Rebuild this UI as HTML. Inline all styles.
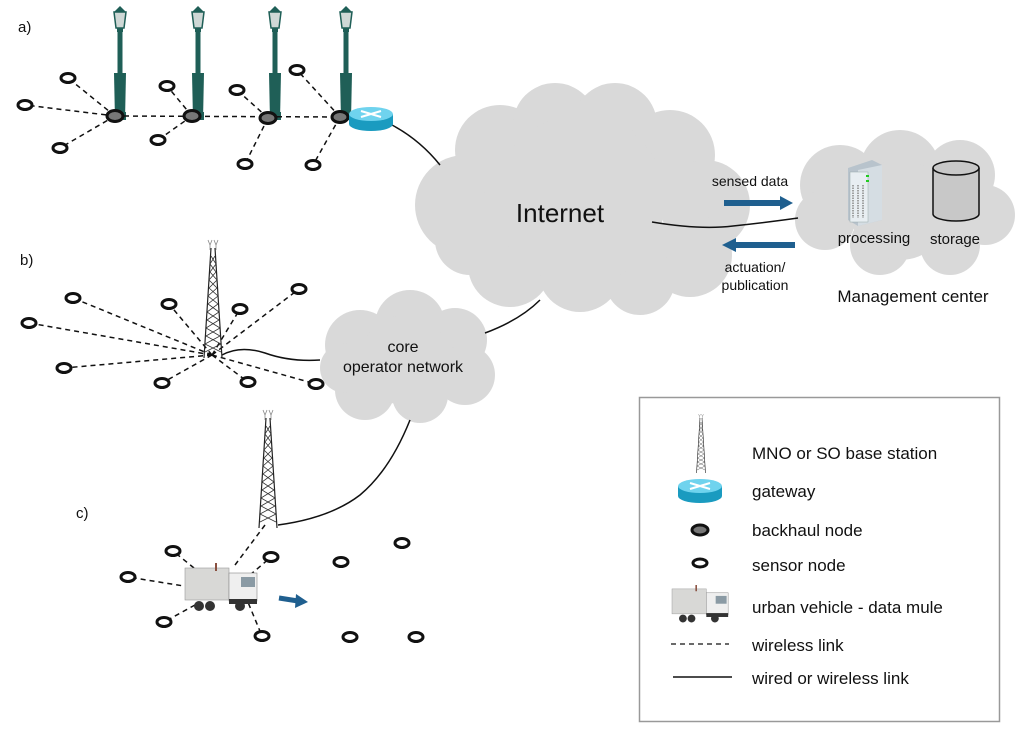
<!DOCTYPE html>
<html><head><meta charset="utf-8"><style>
html,body{margin:0;padding:0;background:#fff}
svg{display:block}
text{font-family:"Liberation Sans","DejaVu Sans",sans-serif;fill:#111}
</style></head><body>
<svg width="1024" height="736" viewBox="0 0 1024 736" xmlns="http://www.w3.org/2000/svg">
<defs>
  <g id="lamp">
    <rect x="-2.5" y="18" width="5" height="92" fill="#1f5f57"/>
    <path d="M-5 112 L-6 65 L6 65 L5 112Z" fill="#1f5f57"/>
    <path d="M-6 4 L6 4 L4 20 L-4 20Z" fill="#cfd8d6" stroke="#1f5f57" stroke-width="1.5"/>
    <path d="M-6 4 L0 -2 L6 4Z" fill="#1f5f57"/>
    <rect x="-3" y="20" width="6" height="4" fill="#1f5f57"/>
    <rect x="-6" y="104" width="12" height="8" fill="#1f5f57"/>
  </g>
  <g id="tower">
    <path d="M-2 0 L-9 110 M2 0 L9 110" stroke="#222" stroke-width="1.2" fill="none"/>
    <path d="M-2 8 L3 16 L-3 24 L4 32 L-4 40 L5 48 L-5 56 L6 64 L-6 72 L7 80 L-7 88 L8 96 L-8 104 M2 8 L-3 16 L3 24 L-4 32 L4 40 L-5 48 L5 56 L-6 64 L6 72 L-7 80 L7 88 L-8 96 L8 104" stroke="#333" stroke-width="0.8" fill="none"/>
    <path d="M-5 -8 L-3 -3 L-1 -8 M1 -8 L3 -3 L5 -8 M-3 -3 L-3 2 M3 -3 L3 2" stroke="#888" stroke-width="0.8" fill="none"/>
  </g>
  <g id="gw">
    <path d="M0 8 L0 18 A22 7 0 0 0 44 18 L44 8Z" fill="#1a9bc0"/>
    <ellipse cx="22" cy="8" rx="22" ry="7" fill="#6fd3ee"/>
    <path d="M12 5 L32 11 M12 11 L32 5" stroke="#fff" stroke-width="2"/>
  </g>
  <g id="truck">
    <rect x="0" y="5" width="44" height="32" fill="#d8d8d6" stroke="#999" stroke-width="0.6"/>
    <rect x="44" y="10" width="28" height="28" fill="#efefef" stroke="#888" stroke-width="0.6"/>
    <rect x="56" y="14" width="14" height="10" fill="#8a9aa4"/>
    <rect x="44" y="36" width="28" height="5" fill="#333"/>
    <circle cx="14" cy="43" r="5" fill="#333"/><circle cx="25" cy="43" r="5" fill="#333"/><circle cx="55" cy="43" r="5" fill="#333"/>
    <rect x="30" y="0" width="2" height="8" fill="#8a5040"/>
  </g>
</defs>

<!-- clouds -->
<g fill="#d9d9d9">
  <circle cx="465" cy="205" r="50"/><circle cx="500" cy="150" r="45"/><circle cx="555" cy="125" r="42"/>
  <circle cx="615" cy="125" r="42"/><circle cx="670" cy="155" r="45"/><circle cx="705" cy="205" r="45"/>
  <circle cx="690" cy="255" r="42"/><circle cx="640" cy="280" r="35"/><circle cx="580" cy="270" r="42"/>
  <circle cx="510" cy="265" r="42"/><circle cx="470" cy="240" r="35"/><circle cx="580" cy="200" r="85"/>
  <circle cx="840" cy="185" r="40"/><circle cx="900" cy="170" r="40"/><circle cx="960" cy="175" r="35"/>
  <circle cx="985" cy="215" r="30"/><circle cx="950" cy="245" r="30"/><circle cx="880" cy="245" r="30"/>
  <circle cx="825" cy="220" r="30"/><circle cx="900" cy="210" r="50"/>
  <circle cx="360" cy="345" r="35"/><circle cx="410" cy="325" r="35"/><circle cx="455" cy="340" r="32"/>
  <circle cx="465" cy="375" r="30"/><circle cx="420" cy="395" r="28"/><circle cx="365" cy="390" r="30"/>
  <circle cx="345" cy="368" r="25"/><circle cx="405" cy="360" r="45"/>
</g>
<text x="560" y="222" font-size="26" text-anchor="middle">Internet</text>
<text x="403" y="352" font-size="16" text-anchor="middle">core</text>
<text x="403" y="372" font-size="16" text-anchor="middle">operator network</text>

<!-- server & storage -->
<path d="M848 168 L872 160 L882 165 L882 220 L858 226 L848 220Z" fill="#b8c3cc"/>
<path d="M858 170 L882 165 L882 220 L858 226Z" fill="#d5dde3"/>
<rect x="850" y="172" width="18" height="50" fill="#e8eef2" stroke="#9aa" stroke-width="0.5"/>
<path d="M853 185 V218 M858 185 V218 M863 185 V218" stroke="#888" stroke-width="1.5" stroke-dasharray="1.5 1"/>
<rect x="866" y="175" width="3" height="2" fill="#2c2"/><rect x="866" y="180" width="3" height="2" fill="#2c2"/>
<path d="M933 168 V214 A23 7 0 0 0 979 214 V168" fill="#c8c8c8" stroke="#111" stroke-width="1.5"/>
<ellipse cx="956" cy="168" rx="23" ry="7" fill="#c8c8c8" stroke="#111" stroke-width="1.5"/>
<text x="874" y="243" font-size="15" text-anchor="middle">processing</text>
<text x="955" y="244" font-size="15" text-anchor="middle">storage</text>
<text x="913" y="302" font-size="17" text-anchor="middle">Management center</text>

<!-- flow arrows -->
<text x="750" y="186" font-size="14" text-anchor="middle">sensed data</text>
<path d="M724 203 H782" stroke="#1f5f8f" stroke-width="6"/><path d="M780 196 L793 203 L780 210Z" fill="#1f5f8f"/>
<path d="M734 245 H795" stroke="#1f5f8f" stroke-width="6"/><path d="M736 238 L722 245 L736 252Z" fill="#1f5f8f"/>
<text x="755" y="272" font-size="14" text-anchor="middle">actuation/</text>
<text x="755" y="290" font-size="14" text-anchor="middle">publication</text>

<!-- solid links -->
<g fill="none" stroke="#111" stroke-width="1.5">
  <path d="M392 125 Q420 140 440 165"/>
  <path d="M652 222 Q700 230 733 226 Q770 222 798 218" />
  <path d="M540 300 Q520 320 485 333"/>
  <path d="M222 355 Q240 345 265 353 Q290 362 320 360"/>
  <path d="M410 420 Q390 470 360 495 Q330 518 278 525"/>
</g>

<!-- a) -->
<text x="18" y="32" font-size="15">a)</text>
<use href="#lamp" x="120" y="8"/><use href="#lamp" x="198" y="8"/><use href="#lamp" x="275" y="8"/><use href="#lamp" x="346" y="8"/>
<g stroke="#111" stroke-width="1.5" stroke-dasharray="5 4" fill="none">
  <path d="M115 116 L340 117"/>
  <path d="M115 116 L68 78 M115 116 L25 105 M115 116 L60 148"/>
  <path d="M192 116 L167 86 M192 116 L158 140"/>
  <path d="M268 118 L237 90 M268 118 L245 164"/>
  <path d="M340 117 L297 70 M340 117 L313 165"/>
  <path d="M212 355 L73 298 M212 355 L29 323 M212 355 L64 368 M212 355 L169 304 M212 355 L240 309 M212 355 L299 289 M212 355 L162 383 M212 355 L248 382 M212 355 L316 384"/>
  <path d="M265 525 L235 565 M215 585 L173 551 M190 587 L128 577 M195 605 L164 622 M245 595 L262 636 M250 575 L271 557"/>
</g>
<g fill="#777" stroke="#111" stroke-width="3">
  <ellipse cx="115" cy="116" rx="8" ry="5.5"/><ellipse cx="192" cy="116" rx="8" ry="5.5"/>
  <ellipse cx="268" cy="118" rx="8" ry="5.5"/><ellipse cx="340" cy="117" rx="8" ry="5.5"/>
</g>
<use href="#gw" x="349" y="106"/>
<g fill="#fff" stroke="#111" stroke-width="3">
  <ellipse cx="68" cy="78" rx="7" ry="4.5"/><ellipse cx="25" cy="105" rx="7" ry="4.5"/><ellipse cx="60" cy="148" rx="7" ry="4.5"/>
  <ellipse cx="167" cy="86" rx="7" ry="4.5"/><ellipse cx="158" cy="140" rx="7" ry="4.5"/><ellipse cx="237" cy="90" rx="7" ry="4.5"/>
  <ellipse cx="245" cy="164" rx="7" ry="4.5"/><ellipse cx="297" cy="70" rx="7" ry="4.5"/><ellipse cx="313" cy="165" rx="7" ry="4.5"/>
  <ellipse cx="73" cy="298" rx="7" ry="4.5"/><ellipse cx="29" cy="323" rx="7" ry="4.5"/><ellipse cx="64" cy="368" rx="7" ry="4.5"/>
  <ellipse cx="169" cy="304" rx="7" ry="4.5"/><ellipse cx="240" cy="309" rx="7" ry="4.5"/><ellipse cx="299" cy="289" rx="7" ry="4.5"/>
  <ellipse cx="162" cy="383" rx="7" ry="4.5"/><ellipse cx="248" cy="382" rx="7" ry="4.5"/><ellipse cx="316" cy="384" rx="7" ry="4.5"/>
  <ellipse cx="173" cy="551" rx="7" ry="4.5"/><ellipse cx="128" cy="577" rx="7" ry="4.5"/><ellipse cx="164" cy="622" rx="7" ry="4.5"/>
  <ellipse cx="271" cy="557" rx="7" ry="4.5"/><ellipse cx="262" cy="636" rx="7" ry="4.5"/><ellipse cx="341" cy="562" rx="7" ry="4.5"/>
  <ellipse cx="402" cy="543" rx="7" ry="4.5"/><ellipse cx="350" cy="637" rx="7" ry="4.5"/><ellipse cx="416" cy="637" rx="7" ry="4.5"/>
</g>

<!-- b) -->
<text x="20" y="265" font-size="15">b)</text>
<use href="#tower" x="213" y="248"/>
<!-- c) -->
<text x="76" y="518" font-size="15">c)</text>
<use href="#tower" x="268" y="418"/>
<use href="#truck" x="185" y="563"/>
<path d="M279 598 L298 601" stroke="#1f5f8f" stroke-width="5"/><path d="M296 594 L308 602 L295 608Z" fill="#1f5f8f"/>

<!-- legend -->
<rect x="639.5" y="397.5" width="360" height="324" fill="#fff" stroke="#999" stroke-width="1.5"/>
<use href="#tower" x="701" y="418" transform="translate(701 418) scale(0.5) translate(-701 -418)"/>
<use href="#gw" x="678" y="478"/>
<ellipse cx="700" cy="530" rx="8" ry="5" fill="#777" stroke="#111" stroke-width="3"/>
<ellipse cx="700" cy="563" rx="7" ry="4" fill="#fff" stroke="#111" stroke-width="3"/>
<g transform="translate(672 585) scale(0.78)"><use href="#truck"/></g>
<path d="M671 644 H729" stroke="#111" stroke-width="1.3" stroke-dasharray="5 4"/>
<path d="M673 677 H732" stroke="#111" stroke-width="1.5"/>
<g font-size="17">
<text x="752" y="459">MNO or SO base station</text>
<text x="752" y="497">gateway</text>
<text x="752" y="536">backhaul node</text>
<text x="752" y="571">sensor node</text>
<text x="752" y="613">urban vehicle - data mule</text>
<text x="752" y="651">wireless link</text>
<text x="752" y="684">wired or wireless link</text>
</g>
</svg>
</body></html>
